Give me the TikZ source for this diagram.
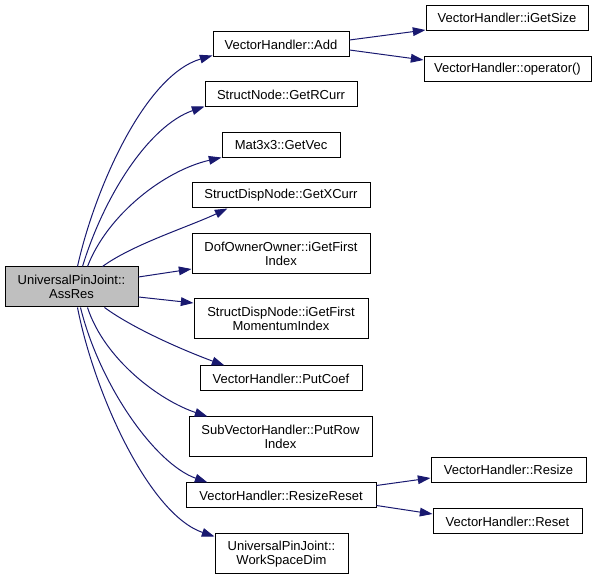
\documentclass[tikz,border=0pt]{standalone}
\usepackage{fontspec}
\setmainfont{Liberation Sans}
\usetikzlibrary{arrows.meta,calc}
\definecolor{edgeblue}{HTML}{191970}
\definecolor{maingray}{HTML}{BFBFBF}
\begin{document}
\begin{tikzpicture}[x=0.75pt,y=-0.75pt,
  box/.style={draw=black, line width=0.75pt, inner sep=0pt, align=center,
    font=\fontsize{9.75}{10.7}\selectfont, fill=white},
  wh/.style 2 args={minimum width=#1*0.75pt, minimum height=#2*0.75pt},
  edge/.style={draw=edgeblue, line width=0.75pt,
    -{Triangle[length=9.5pt,width=6.5pt]}},
]
\useasboundingbox (0,0) rectangle (597,580);

\node[box, fill=maingray, wh={133}{40}] (main) at (71.5,287) {UniversalPinJoint::\\AssRes};

\node[box, wh={136}{25}] (add) at (281,44.5) {VectorHandler::Add};
\node[box, wh={152}{25}] (rcurr) at (281,94.5) {StructNode::GetRCurr};
\node[box, wh={118}{25}] (getvec) at (281,145.5) {Mat3x3::GetVec};
\node[box, wh={178}{25}] (xcurr) at (281,195.5) {StructDispNode::GetXCurr};
\node[box, wh={178}{40}] (dof) at (281,254) {DofOwnerOwner::iGetFirst\\Index};
\node[box, wh={174}{40}] (mom) at (281,319) {StructDispNode::iGetFirst\\MomentumIndex};
\node[box, wh={162}{25}] (putcoef) at (281,378.5) {VectorHandler::PutCoef};
\node[box, wh={183}{40}] (putrow) at (280.5,437) {SubVectorHandler::PutRow\\Index};
\node[box, wh={190}{25}] (rreset) at (281,495.5) {VectorHandler::ResizeReset};
\node[box, wh={133}{40}] (wsd) at (281.5,554) {UniversalPinJoint::\\WorkSpaceDim};

\node[box, wh={162}{25}] (igetsize) at (507,18) {VectorHandler::iGetSize};
\node[box, wh={167}{25}] (oper) at (507.5,69) {VectorHandler::operator()};
\node[box, wh={155}{25}] (resize) at (508.5,470) {VectorHandler::Resize};
\node[box, wh={149}{25}] (reset) at (507.5,521.5) {VectorHandler::Reset};

% edges from main
\draw[edge] ($(main.north west)+(73,0)$) .. controls +(17,-77) and +(-68,20) .. ($(add.south west)+(0,-2)$);
\draw[edge] ($(main.north west)+(78,0)$) .. controls +(22,-72) and +(-55,19) .. ($(rcurr.south west)+(0,-1)$);
\draw[edge] ($(main.north west)+(83,0)$) .. controls +(20,-52) and +(-57,13) .. ($(getvec.south west)+(0,-1)$);
\draw[edge] ($(main.north west)+(98,0)$) .. controls +(30,-22) and +(-38,18) .. ($(xcurr.south west)+(36,0)$);
\draw[edge] ($(main.east)+(0,-10)$) -- ($(dof.west)+(0,15)$);
\draw[edge] ($(main.east)+(0,10)$) -- ($(mom.west)+(0,-16)$);
\draw[edge] ($(main.south west)+(100,0)$) .. controls +(30,22) and +(-38,-14) .. ($(putcoef.north west)+(25,0)$);
\draw[edge] ($(main.south west)+(83,0)$) .. controls +(17,52) and +(-48,-16) .. ($(putrow.north west)+(19,0)$);
\draw[edge] ($(main.south west)+(76,0)$) .. controls +(19,77) and +(-53,-19) .. ($(rreset.north west)+(22,0)$);
\draw[edge] ($(main.south west)+(73,0)$) .. controls +(17,87) and +(-65,-22) .. ($(wsd.north west)+(0,3)$);

% second level
\draw[edge] ($(add.east)+(0,-4.5)$) -- ($(igetsize.west)+(0,12)$);
\draw[edge] ($(add.east)+(0,5.5)$) -- ($(oper.west)+(0,-9)$);
\draw[edge] ($(rreset.east)+(0,-10)$) -- ($(resize.west)+(0,8)$);
\draw[edge] ($(rreset.east)+(0,10)$) -- ($(reset.west)+(0,-7.5)$);
\end{tikzpicture}
\end{document}
